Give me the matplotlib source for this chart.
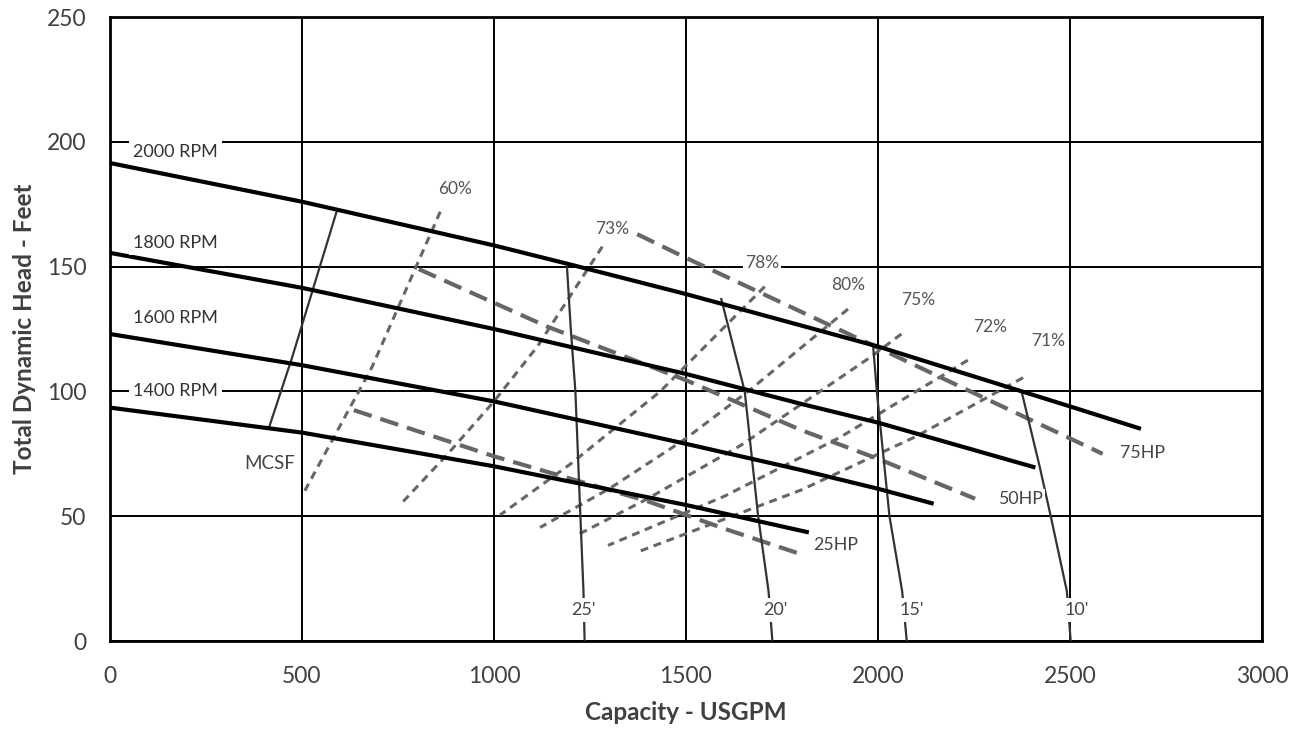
import matplotlib
matplotlib.use("Agg")
import matplotlib.pyplot as plt

plt.rcParams['font.family'] = ['Lato', 'DejaVu Sans']

# pump speed curves (USGPM, ft)
rpm_labels = ['2000 RPM', '1800 RPM', '1600 RPM', '1400 RPM']
rpm_label_y = [196, 159.5, 129.5, 100]
rpm_q = [
    [0, 500, 1000, 1200, 1500, 1750, 2000, 2375, 2500, 2685],
    [0, 500, 1000, 1500, 1800, 2000, 2410],
    [0, 500, 1000, 1500, 1800, 2000, 2145],
    [0, 500, 1000, 1500, 1820],
]
rpm_h = [
    [191.5, 176, 158.5, 150.8, 139, 128.5, 118, 100, 94, 85],
    [155.5, 141.5, 125, 107, 95, 87.5, 69.5],
    [123, 110.5, 96, 79, 68.5, 61, 55],
    [93.5, 83.5, 70, 54.5, 43.5],
]

# horsepower limit lines
hp_labels = ['75HP', '50HP', '25HP']
hp_label_pos = [(2688, 75.5), (2370, 57), (1890, 38.5)]
hp_q = [
    [1373, 1500, 2000, 2585],
    [804, 1138, 1500, 1800, 2000, 2253],
    [635, 1000, 1400, 1600, 1795],
]
hp_h = [
    [163, 153.5, 117.5, 75],
    [149, 126, 104.5, 84.5, 73, 57],
    [92.5, 74, 56, 45, 35],
]

# efficiency lines
eff_labels = ['60%', '73%', '78%', '80%', '75%', '72%', '71%']
eff_label_pos = [(898, 181), (1307, 165), (1698, 151.5), (1922, 142.5),
                 (2104, 136.5), (2292, 126), (2443, 120)]
eff_q = [
    [860, 683, 503],
    [1282, 1113, 1000, 880, 755],
    [1705, 1433, 1200, 1016],
    [1922, 1670, 1494, 1300, 1120],
    [2061, 1983, 1644, 1400, 1211],
    [2234, 1900, 1600, 1297],
    [2378, 2100, 1800, 1380],
]
eff_h = [
    [172, 110, 59],
    [158, 118, 96, 75, 54.5],
    [142, 100, 71, 50.5],
    [133, 101, 80.5, 61, 45.5],
    [123, 114, 78.5, 57, 42],
    [112.5, 81.5, 58, 38.3],
    [105.5, 82, 60.5, 36],
]

# system head curves (static lift)
sys_labels = ["25'", "20'", "15'", "10'"]
sys_label_q = [1234, 1732, 2089, 2518]
sys_q = [
    [1190, 1200, 1212, 1225, 1233, 1236],
    [1592, 1620, 1653, 1688, 1715, 1725],
    [1987, 1997, 2030, 2063, 2075],
    [2374, 2421, 2450, 2492, 2502],
]
sys_h = [
    [150, 125, 100, 50, 20, 0],
    [137, 120, 100, 50, 20, 0],
    [119, 100, 50, 20, 0],
    [100, 70, 50, 20, 0],
]

# minimum continuous stable flow
mcsf_q = [414, 475, 591]
mcsf_h = [85.5, 114, 172.5]

fig = plt.figure(figsize=(13.07, 7.34), dpi=100)
ax = fig.add_axes([0.0842, 0.1267, 0.8813, 0.8501])

ax.set_xlim(0, 3000)
ax.set_ylim(0, 250)
ax.set_xticks(range(0, 3001, 500))
ax.set_yticks(range(0, 251, 50))
ax.grid(True, color='black', linewidth=1.4, zorder=0)
ax.set_axisbelow(True)
for s in ax.spines.values():
    s.set_linewidth(2)
    s.set_color('black')
ax.tick_params(length=0, labelsize=16.5, labelcolor='#404040')
ax.tick_params(axis='y', pad=17)
ax.tick_params(axis='x', pad=18)

ax.set_xlabel('Capacity - USGPM', fontsize=17.5, fontweight='bold', color='#404040', labelpad=10)
ax.set_ylabel('Total Dynamic Head - Feet', fontsize=17.5, fontweight='bold', color='#404040', labelpad=8)

box = dict(facecolor='white', edgecolor='none', pad=1.5)

for q, h in zip(eff_q, eff_h):
    ax.plot(q, h, color='#666666', linewidth=2.2, dashes=(2.6, 1.9), zorder=2)
for lab, (x, y) in zip(eff_labels, eff_label_pos):
    ax.text(x, y, lab, fontsize=12.5, color='#555555', ha='center', va='center', bbox=box, zorder=6)

for q, h in zip(hp_q, hp_h):
    ax.plot(q, h, color='#666666', linewidth=3, dashes=(4.5, 2.2), zorder=3)
for lab, (x, y) in zip(hp_labels, hp_label_pos):
    ax.text(x, y, lab, fontsize=12.8, color='#444444', ha='center', va='center', bbox=box, zorder=6)

for q, h in zip(sys_q, sys_h):
    ax.plot(q, h, color='#333333', linewidth=1.6, zorder=4)
for lab, x in zip(sys_labels, sys_label_q):
    ax.text(x, 12.5, lab, fontsize=13, color='#444444', ha='center', va='center',
            bbox=dict(facecolor='white', edgecolor='none', pad=3), zorder=6)

ax.plot(mcsf_q, mcsf_h, color='#333333', linewidth=1.6, zorder=4)
ax.text(417, 71, 'MCSF', fontsize=13.5, color='#444444', ha='center', va='center', bbox=box, zorder=6)

for q, h in zip(rpm_q, rpm_h):
    ax.plot(q, h, color='black', linewidth=3, solid_capstyle='butt', zorder=5)
for lab, y in zip(rpm_labels, rpm_label_y):
    ax.text(60, y, lab, fontsize=13, color='#333333', ha='left', va='center',
            bbox=dict(facecolor='white', edgecolor='none', pad=3), zorder=6)

fig.savefig('out.png', dpi=100)
